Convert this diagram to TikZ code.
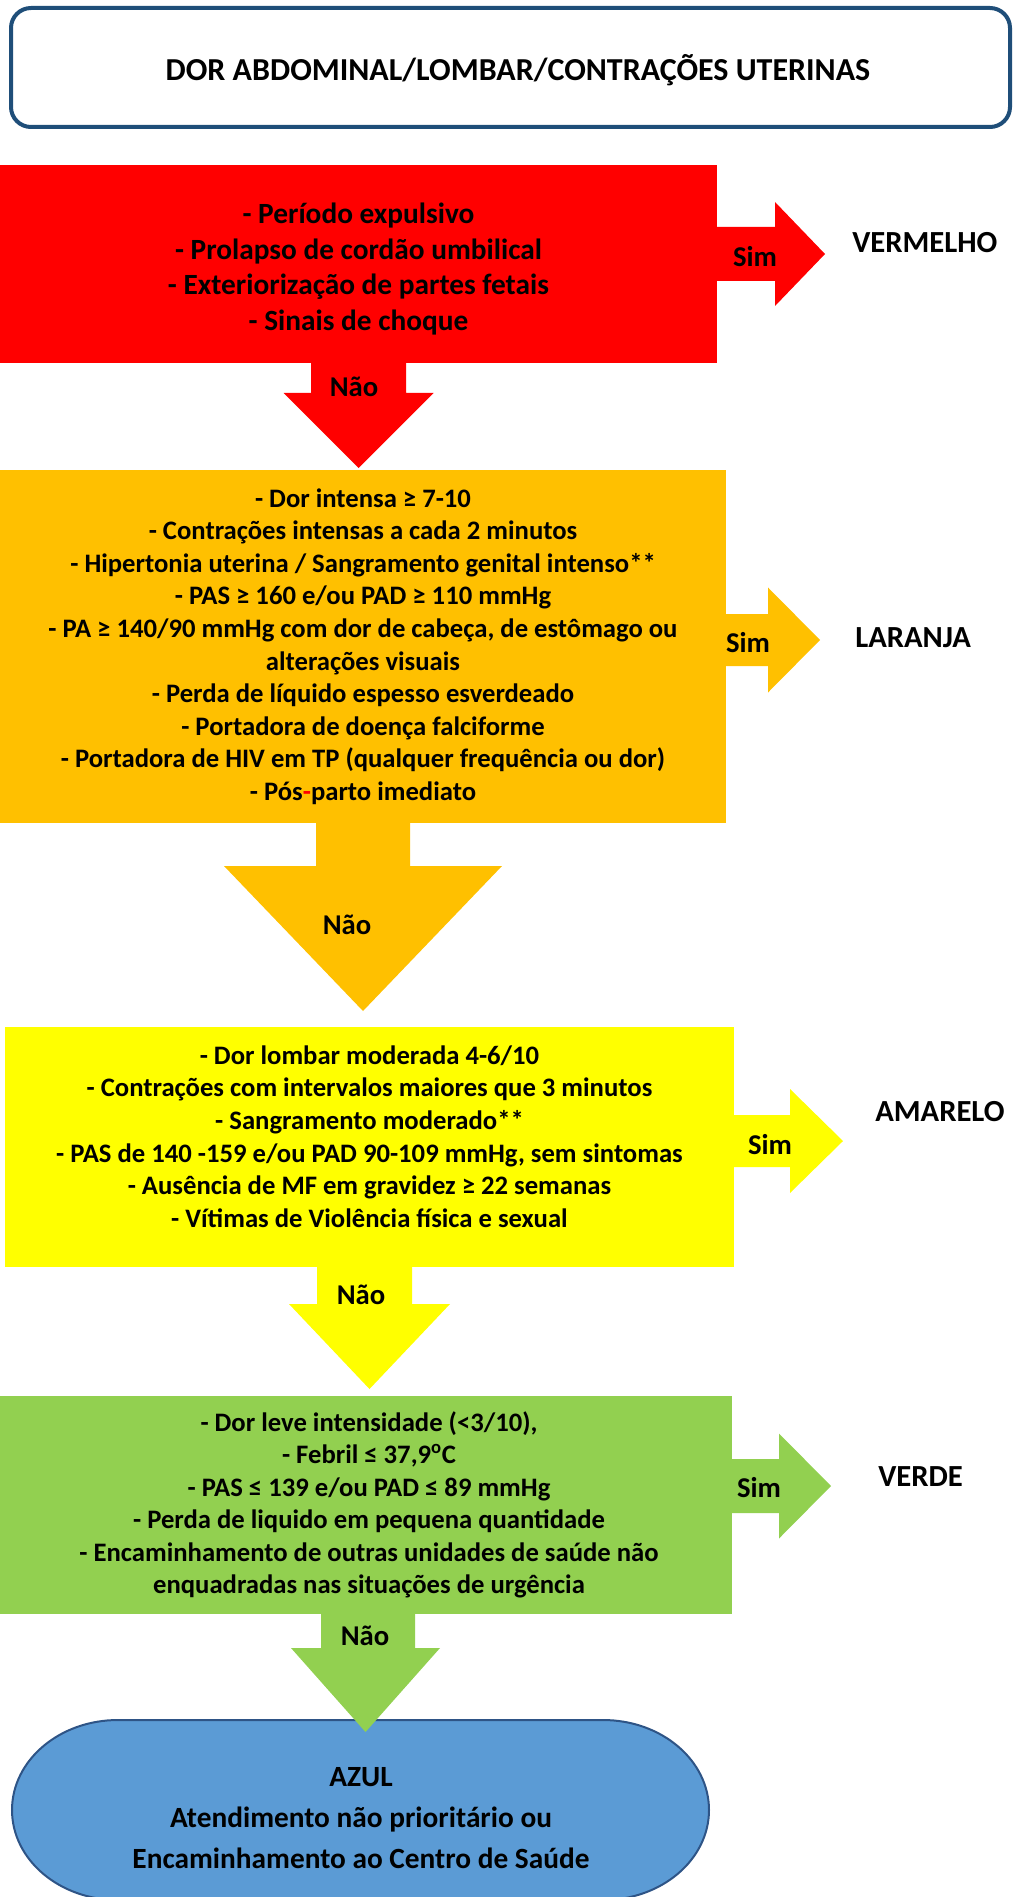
\documentclass[tikz,border=0pt]{standalone}
\usepackage{fontspec}
\setmainfont{Carlito}
\usetikzlibrary{calc,fit,positioning}

\definecolor{vermelho}{RGB}{255,0,0}
\definecolor{laranja}{RGB}{255,192,0}
\definecolor{amarelo}{RGB}{255,255,0}
\definecolor{verde}{RGB}{146,208,80}
\definecolor{azul}{RGB}{91,155,213}
\definecolor{azulborda}{RGB}{46,84,134}
\definecolor{titborda}{RGB}{31,78,121}

\tikzset{
  caixa/.style={inner sep=0pt, outer sep=0pt, draw=none},
  lista/.style={align=center, inner sep=0pt, font=\bfseries\fontsize{20}{24.4}\selectfont},
  resposta/.style={inner sep=0pt, font=\bfseries\fontsize{21.5}{26}\selectfont},
  classe/.style={anchor=west, inner sep=0pt, font=\bfseries\fontsize{23}{28}\selectfont},
}

\begin{document}
\begin{tikzpicture}[x=0.75pt,y=0.75pt,yscale=-1,xscale=1]
    \useasboundingbox (0,0) rectangle (1014,1897);

    %Shape: Title box
    \node [fit={(11,8) (1010,127)}, draw=titborda, line width=3pt, rounded corners=15pt, inner sep=0pt] (titulo) {};
    % Text Node
    \node [inner sep=0pt, font=\bfseries\fontsize{24}{29}\selectfont] (titulo txt) at (518,70) {DOR ABDOMINAL/LOMBAR/CONTRAÇÕES UTERINAS};

    %Shape: Boxes
    \node [caixa, fill=vermelho, fit={(0,165) (717,363)}] (vermelho) {};
    \node [caixa, fill=laranja, fit={(0,470) (726,823)}] (laranja) {};
    \node [caixa, fill=amarelo, fit={(5,1027) (734,1267)}] (amarelo) {};
    \node [caixa, fill=verde, fit={(0,1396) (732,1614)}] (verde) {};

    %Shape: Terminator (azul)
    \draw [fill=azul, draw=azulborda, line width=1.5] (118,1720) -- (603,1720) arc [start angle=-90, end angle=90, x radius=106, y radius=90] -- (118,1900) arc [start angle=90, end angle=270, x radius=106, y radius=90] -- cycle;

    %Shape: Right Arrows (Sim)
    \fill [vermelho] ($(vermelho.east)+(0,-37)$) -- ++(58,0) -- ++(0,-25) -- ++(50,52) -- ++(-50,52) -- ++(0,-25) -- ++(-58,0) -- cycle;
    \fill [laranja] ($(laranja.east)+(0,-32.5)$) -- ++(42,0) -- ++(0,-26.5) -- ++(52,52.5) -- ++(-52,52.5) -- ++(0,-26.5) -- ++(-42,0) -- cycle;
    \fill [amarelo] ($(amarelo.east)+(0,-32)$) -- ++(56,0) -- ++(0,-26) -- ++(53,52) -- ++(-53,52) -- ++(0,-26) -- ++(-56,0) -- cycle;
    \fill [verde] ($(verde.east)+(0,-46)$) -- ++(47,0) -- ++(0,-25.5) -- ++(52,52.5) -- ++(-52,52.5) -- ++(0,-25.5) -- ++(-47,0) -- cycle;

    %Shape: Down Arrows (Não)
    \fill [vermelho] ($(vermelho.south)+(-47.5,0)$) -- ++(0,30) -- ++(-27.5,0) -- ++(75,75) -- ++(75,-75) -- ++(-27.5,0) -- ++(0,-30) -- cycle;
    \fill [laranja] ($(laranja.south)+(-47,0)$) -- ++(0,43) -- ++(-92,0) -- ++(139,145) -- ++(139,-145) -- ++(-92,0) -- ++(0,-43) -- cycle;
    \fill [amarelo] ($(amarelo.south)+(-52.5,0)$) -- ++(0,37) -- ++(-28,0) -- ++(80.5,85) -- ++(80.5,-85) -- ++(-38,0) -- ++(0,-37) -- cycle;
    \fill [verde] ($(verde.south)+(-45,0)$) -- ++(0,34) -- ++(-30,0) -- ++(74.5,84) -- ++(74.5,-84) -- ++(-25,0) -- ++(0,-34) -- cycle;

    % Text Node
    \node [lista, font=\bfseries\fontsize{22}{26.6}\selectfont] (vermelho txt) at ($(vermelho.center)+(0,5)$) {- Período expulsivo\\- Prolapso de cordão umbilical\\- Exteriorização de partes fetais\\- Sinais de choque};
    % Text Node
    \node [lista] (laranja txt) at (laranja.center) {- Dor intensa ≥ 7-10\\- Contrações intensas a cada 2 minutos\\- Hipertonia uterina / Sangramento genital intenso**\\- PAS ≥ 160 e/ou PAD ≥ 110 mmHg\\- PA ≥ 140/90 mmHg com dor de cabeça, de estômago ou\\alterações visuais\\- Perda de líquido espesso esverdeado\\- Portadora de doença falciforme\\- Portadora de HIV em TP (qualquer frequência ou dor)\\- Pós\textcolor{vermelho}{-}parto imediato};
    % Text Node
    \node [lista] (amarelo txt) at ($(amarelo.center)+(0,-10.5)$) {- Dor lombar moderada 4-6/10\\- Contrações com intervalos maiores que 3 minutos\\- Sangramento moderado**\\- PAS de 140 -159 e/ou PAD 90-109 mmHg, sem sintomas\\- Ausência de MF em gravidez ≥ 22 semanas\\- Vítimas de Violência física e sexual};
    % Text Node
    \node [lista] (verde txt) at ($(verde.center)+(3,0)$) {- Dor leve intensidade (<3/10),\\- Febril ≤ 37,9\textsuperscript{o}C\\- PAS ≤ 139 e/ou PAD ≤ 89 mmHg\\- Perda de liquido em pequena quantidade\\- Encaminhamento de outras unidades de saúde não\\enquadradas nas situações de urgência};
    % Text Node
    \node [lista, font=\bfseries\fontsize{22}{30.75}\selectfont] (azul) at (361,1818) {AZUL\\Atendimento não prioritário ou\\Encaminhamento ao Centro de Saúde};

    % Text Node: Sim
    \node [resposta] (sim1) at (755,257) {Sim};
    \node [resposta] (sim2) at (748,643) {Sim};
    \node [resposta] (sim3) at (770,1145) {Sim};
    \node [resposta] (sim4) at (759,1488) {Sim};
    % Text Node: Não
    \node [resposta] (nao1) at (354,387) {Não};
    \node [resposta] (nao2) at (347,925) {Não};
    \node [resposta] (nao3) at (361,1295) {Não};
    \node [resposta] (nao4) at (365,1636) {Não};
    % Text Node: classes
    \node [classe] (cl vermelho) at (852,243) {VERMELHO};
    \node [classe] (cl laranja) at (855,638) {LARANJA};
    \node [classe] (cl amarelo) at (875,1112) {AMARELO};
    \node [classe] (cl verde) at (878,1477) {VERDE};

\end{tikzpicture}
\end{document}
